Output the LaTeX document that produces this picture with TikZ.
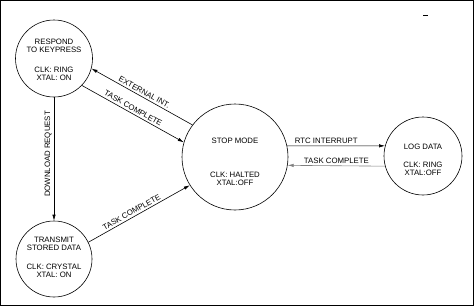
\documentclass[tikz,border=0pt]{standalone}
\usepackage{fontspec}
\setmainfont{Liberation Sans}
\usetikzlibrary{arrows.meta}
\begin{document}
\begin{tikzpicture}[x=1pt,y=-1pt,
  state/.style={draw, circle, line width=0.6pt, inner sep=0pt},
  txt/.style={align=center, inner sep=0pt, font=\fontsize{7.8}{7.9}\selectfont},
  trans/.style={line width=0.6pt, -{Latex[length=6pt,width=3.4pt]}},
  lbl/.style={font=\fontsize{7.8}{7.9}\selectfont, sloped, above=1pt, inner sep=1pt}]
\useasboundingbox (0,0) rectangle (475,308);
\draw[line width=1.2pt] (0.6,0.6) rectangle (473.4,305.4);
\draw[line width=1pt] (423,15) -- (428,15);
\node[state, minimum size=77pt] (respond) at (54,58.5) {};
\node[state, minimum size=76pt] (transmit) at (54,259) {};
\node[state, minimum size=106pt] (stop) at (235,157) {};
\node[state, minimum size=78pt] (log) at (423,156) {};
\node[txt] (respondtxt) at (54,59.5) {RESPOND\\TO KEYPRESS\\[12.3pt]CLK: RING\\XTAL: ON};
\node[txt] (transmittxt) at (54,257.5) {TRANSMIT\\STORED DATA\\[10.8pt]CLK: CRYSTAL\\XTAL: ON};
\node[txt] (stoptxt) at (235,162) {STOP MODE\\[25.8pt]CLK: HALTED\\XTAL:OFF};
\node[txt] (logtxt) at (423,160) {LOG DATA\\[10.3pt]CLK: RING\\XTAL:OFF};
\draw[trans] (stop.143) -- node[lbl] {EXTERNAL INT.} (respond.-15);
\draw[trans] (respond.-44) -- node[lbl, pos=0.48] {TASK COMPLETE} (stop.164);
\draw[trans] (respond.south) -- node[pos=0.46, rotate=90, anchor=south, inner sep=2pt, font=\fontsize{7.8}{7.9}\selectfont] {DOWNLOAD REQUEST} (transmit.north);
\draw[trans] (transmit.26) -- node[lbl, pos=0.45] {TASK COMPLETE} (stop.212);
\draw[trans] (stop.12) -- node[lbl, pos=0.4] {RTC INTERRUPT} (log.165);
\draw[trans, draw=gray] (log.195) -- node[lbl] {TASK COMPLETE} (stop.-9);
\end{tikzpicture}
\end{document}
